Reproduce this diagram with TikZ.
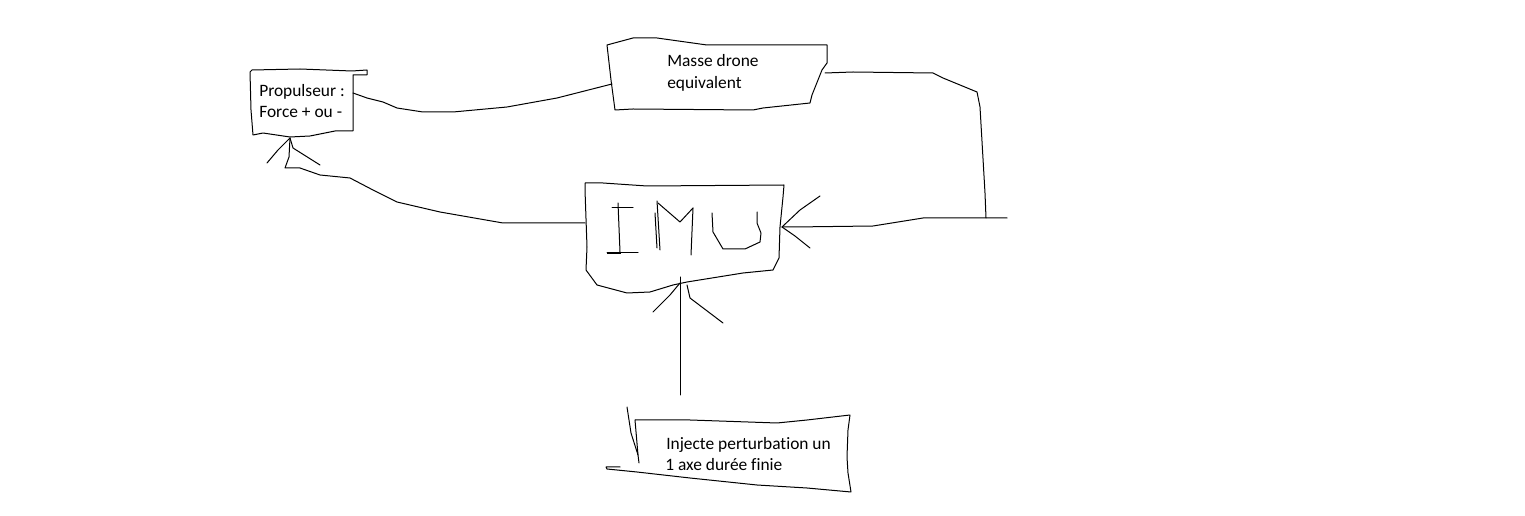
\documentclass[tikz,border=0pt]{standalone}
\usepackage{fontspec}
\setmainfont[Ligatures=NoCommon]{Carlito}
\begin{document}
\begin{tikzpicture}[x=0.75pt,y=-0.75pt,
  pen/.style={line width=0.75pt, line join=round, line cap=round},
  thickpen/.style={line width=1.6pt, line cap=butt},
  txt/.style={anchor=base west, inner sep=0pt, font=\fontsize{13.05pt}{15.6pt}\selectfont}]
\useasboundingbox[fill=white] (0,0) rectangle (1525,516);

% --- connector ends ---
\coordinate (propR) at (353,93);
\coordinate (propB) at (290,138);
\coordinate (masseL) at (612,84);
\coordinate (masseR) at (825,73);
\coordinate (imuL) at (585,223);
\coordinate (imuR) at (782,227);
\coordinate (imuB) at (680,283);
\coordinate (feedEnd) at (1007,218);
\coordinate (pertTop) at (680,395);

% --- Propulseur box ---
\draw[pen] (250,72) -- (252,70) -- (300,69) -- (352,71) -- (367,70) -- (367,75)
  -- (353,75) -- (353,131) -- (335,131) -- (310,136) -- (290,137) -- (263,133)
  -- (253,135) -- (251,110) -- cycle;
\node[txt] (prop1) at (259,97) {Propulseur :};
\node[txt] (prop2) at (259,117.5) {Force + ou -};

% --- Masse drone box ---
\draw[pen] (607,45) -- (633,38) -- (657,38) -- (707,45) -- (827,45) -- (827,63)
  -- (822,70) -- (812,95) -- (810,103) -- (763,108) -- (753,110) -- (633,109)
  -- (615,110) -- (611,80) -- cycle;
\node[txt] (masse1) at (667,66.7) {Masse drone};
\node[txt] (masse2) at (667,88.3) {equivalent};

% --- IMU box ---
\draw[pen] (585,183) -- (603,183) -- (647,186) -- (784,185) -- (783,197)
  -- (780,227) -- (779,258) -- (773,270) -- (743,273) -- (687,282) -- (673,285)
  -- (650,292) -- (627,293) -- (597,285) -- (586,270) -- (587,247) -- (585,190) -- cycle;
% hand-lettered "IMU"
\draw[pen] (612,208) -- (633,208);
\draw[pen] (618,203) -- (620,252);
\draw[pen] (607,253) -- (638,253);
\draw[thickpen] (607,253) -- (621,253);
\draw[pen] (655,213) -- (657,248);
\draw[pen] (657,201) -- (660,250);
\draw[pen] (658,203) -- (680,222) -- (693,208);
\draw[pen] (693,208) -- (691,255);
\draw[pen] (712,213) -- (713,232) -- (723,249) -- (745,249) -- (760,242)
  -- (761,233) -- (757,223) -- (757,212);

% --- Perturbation box ---
\draw[pen] (635,420) -- (690,420) -- (777,423) -- (807,420) -- (850,415)
  -- (848,430) -- (847,457) -- (848,473) -- (851,492) -- (807,488) -- (757,485)
  -- (690,478) -- (637,472) -- (607,469) -- (606,467) -- (620,467);
\draw[pen] (635,420) -- (638,455) -- (639,463);
\draw[pen] (627,407) -- (631,433) -- (638,455);
\node[txt] (pert1) at (666,450) {Injecte perturbation un};
\node[txt] (pert2) at (665,471) {1 axe durée finie};

% --- Propulseur -> Masse drone ---
\draw[pen] (propR) -- (367,98) -- (383,102) -- (397,108) -- (423,112) -- (453,112)
  -- (507,107) -- (557,98) -- (masseL);

% --- Masse drone -> IMU (feedback on the right) ---
\draw[pen] (masseR) -- (853,72) -- (933,73) -- (943,78) -- (977,92) -- (980,107)
  -- (985,193) -- (986,218);
\draw[pen] (feedEnd) -- (923,218) -- (873,226) -- (793,227) -- (imuR);
\draw[pen] (imuR) -- (800,210) -- (820,196);
\draw[pen] (imuR) -- (795,236) -- (810,248);

% --- IMU -> Propulseur ---
\draw[pen] (imuL) -- (503,223) -- (440,212) -- (397,202) -- (373,190) -- (350,178)
  -- (320,175) -- (300,168) -- (285,168) -- (289,157) -- (propB);
\draw[pen] (propB) -- (278,150) -- (267,163);
\draw[pen] (propB) -- (293,148) -- (320,165);

% --- Perturbation -> IMU ---
\draw[pen] (pertTop) -- (680,277);
\draw[pen] (imuB) -- (670,295) -- (653,312);
\draw[pen] (687,285) -- (690,298) -- (723,323);
\end{tikzpicture}
\end{document}
